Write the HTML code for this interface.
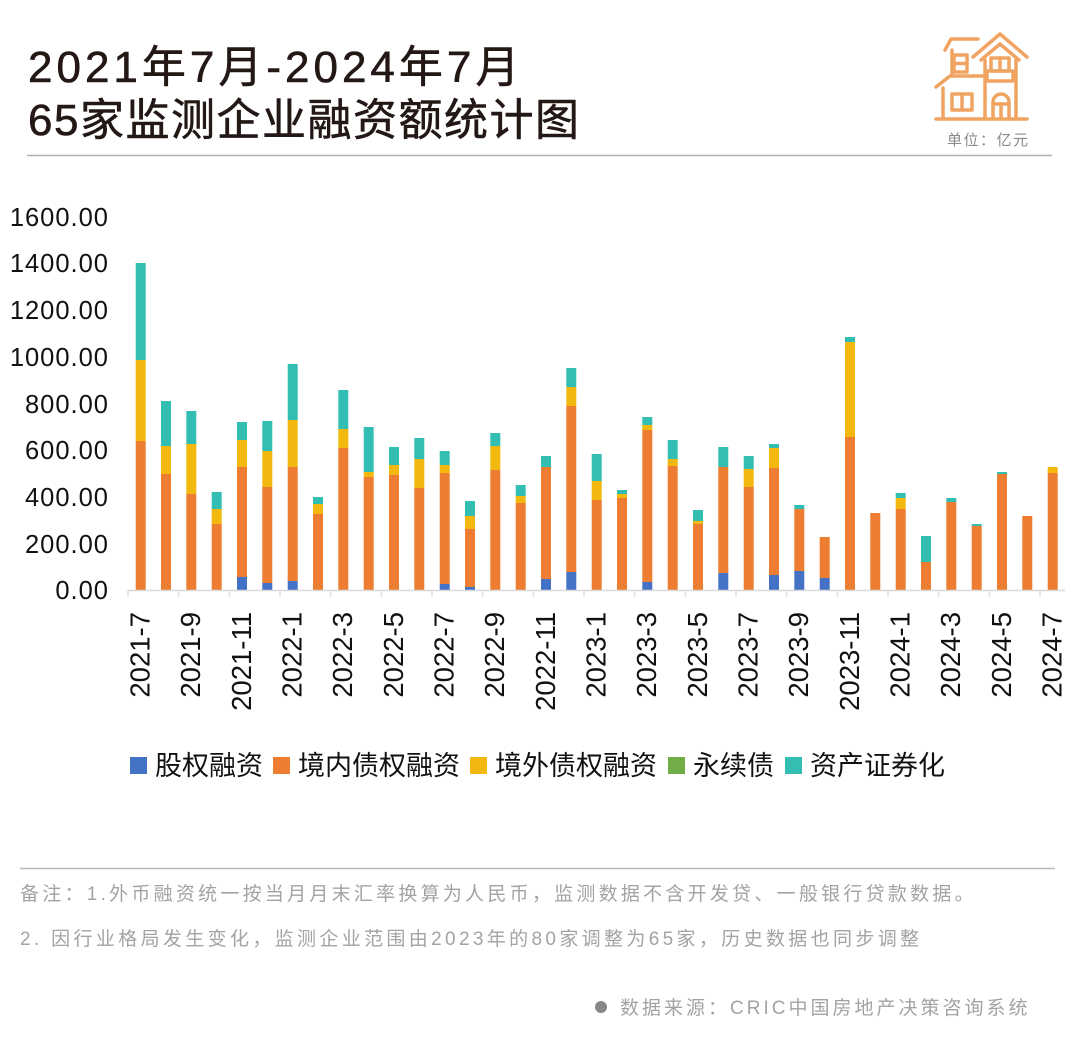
<!DOCTYPE html>
<html>
<head>
<meta charset="utf-8">
<style>
html,body{margin:0;padding:0;background:#fff;}
body{width:1080px;height:1040px;overflow:hidden;}
svg{display:block;}
</style>
</head>
<body>
<svg width="1080" height="1040" viewBox="0 0 1080 1040" xmlns="http://www.w3.org/2000/svg" font-family="'Liberation Sans','Noto Sans CJK SC',sans-serif">
<rect width="1080" height="1040" fill="#fff"/>

<!-- Title -->
<text x="28" y="82" font-size="44" fill="#231815" letter-spacing="4" stroke="#231815" stroke-width="0.6">2021年7月-2024年7月</text>
<text x="28" y="135" font-size="44" fill="#231815" letter-spacing="1.5" stroke="#231815" stroke-width="0.6">65家监测企业融资额统计图</text>
<line x1="27" y1="155.5" x2="1052" y2="155.5" stroke="#b0b0b0" stroke-width="1.5"/>

<!-- House logo -->
<g fill="none" stroke="#F0A462" stroke-width="3.5" stroke-linecap="round" stroke-linejoin="round">
  <line x1="936" y1="119" x2="1027" y2="119"/>
  <path d="M973,57 L1000,34 L1027,57"/>
  <path d="M981,60 L1000,44 L1019,60"/>
  <line x1="985" y1="60" x2="985" y2="119"/>
  <line x1="1016" y1="60" x2="1016" y2="119"/>
  <rect x="991" y="58" width="18" height="13"/>
  <line x1="1000" y1="58" x2="1000" y2="71"/>
  <rect x="987" y="71" width="26" height="10"/>
  <path d="M993,119 V102 A8,8 0 0 1 1009,102 V119"/>
  <line x1="993" y1="104" x2="1009" y2="104"/>
  <line x1="1001" y1="104" x2="1001" y2="119"/>
  <path d="M945,50 L951,39 L978,39"/>
  <line x1="952" y1="50" x2="952" y2="76"/>
  <rect x="954" y="55" width="13" height="17"/>
  <line x1="954" y1="63.5" x2="967" y2="63.5"/>
  <path d="M936,87 L950,76 L983,76"/>
  <line x1="943" y1="88" x2="943" y2="119"/>
  <rect x="952" y="94" width="20" height="16"/>
  <line x1="962" y1="94" x2="962" y2="110"/>
</g>
<text x="947" y="145" font-size="15" fill="#8a8a8a" letter-spacing="1.5">单位：亿元</text>

<!-- Y axis labels -->
<g font-size="25.5" fill="#111" text-anchor="end" letter-spacing="1">
  <text x="109" y="226">1600.00</text>
  <text x="109" y="272">1400.00</text>
  <text x="109" y="319">1200.00</text>
  <text x="109" y="366">1000.00</text>
  <text x="109" y="413">800.00</text>
  <text x="109" y="459">600.00</text>
  <text x="109" y="506">400.00</text>
  <text x="109" y="553">200.00</text>
  <text x="109" y="599">0.00</text>
</g>

<!-- Bars -->
<g>
<rect x="135.7" y="441" width="10" height="149" fill="#ED7D31"/>
<rect x="135.7" y="360" width="10" height="81" fill="#F2B80F"/>
<rect x="135.7" y="263" width="10" height="97" fill="#33BEB3"/>
<rect x="161" y="474" width="10" height="116" fill="#ED7D31"/>
<rect x="161" y="446" width="10" height="28" fill="#F2B80F"/>
<rect x="161" y="401" width="10" height="45" fill="#33BEB3"/>
<rect x="186.3" y="494" width="10" height="96" fill="#ED7D31"/>
<rect x="186.3" y="444" width="10" height="50" fill="#F2B80F"/>
<rect x="186.3" y="411" width="10" height="33" fill="#33BEB3"/>
<rect x="211.7" y="524" width="10" height="66" fill="#ED7D31"/>
<rect x="211.7" y="509" width="10" height="15" fill="#F2B80F"/>
<rect x="211.7" y="492" width="10" height="17" fill="#33BEB3"/>
<rect x="237" y="577" width="10" height="13" fill="#4472C4"/>
<rect x="237" y="467" width="10" height="110" fill="#ED7D31"/>
<rect x="237" y="440" width="10" height="27" fill="#F2B80F"/>
<rect x="237" y="422" width="10" height="18" fill="#33BEB3"/>
<rect x="262.3" y="583" width="10" height="7" fill="#4472C4"/>
<rect x="262.3" y="487" width="10" height="96" fill="#ED7D31"/>
<rect x="262.3" y="451" width="10" height="36" fill="#F2B80F"/>
<rect x="262.3" y="421" width="10" height="30" fill="#33BEB3"/>
<rect x="287.7" y="581" width="10" height="9" fill="#4472C4"/>
<rect x="287.7" y="467" width="10" height="114" fill="#ED7D31"/>
<rect x="287.7" y="420" width="10" height="47" fill="#F2B80F"/>
<rect x="287.7" y="364" width="10" height="56" fill="#33BEB3"/>
<rect x="313" y="514" width="10" height="76" fill="#ED7D31"/>
<rect x="313" y="504" width="10" height="10" fill="#F2B80F"/>
<rect x="313" y="497" width="10" height="7" fill="#33BEB3"/>
<rect x="338.3" y="448" width="10" height="142" fill="#ED7D31"/>
<rect x="338.3" y="429" width="10" height="19" fill="#F2B80F"/>
<rect x="338.3" y="390" width="10" height="39" fill="#33BEB3"/>
<rect x="363.7" y="477" width="10" height="113" fill="#ED7D31"/>
<rect x="363.7" y="472" width="10" height="5" fill="#F2B80F"/>
<rect x="363.7" y="427" width="10" height="45" fill="#33BEB3"/>
<rect x="389" y="475" width="10" height="115" fill="#ED7D31"/>
<rect x="389" y="465" width="10" height="10" fill="#F2B80F"/>
<rect x="389" y="447" width="10" height="18" fill="#33BEB3"/>
<rect x="414.3" y="488" width="10" height="102" fill="#ED7D31"/>
<rect x="414.3" y="459" width="10" height="29" fill="#F2B80F"/>
<rect x="414.3" y="438" width="10" height="21" fill="#33BEB3"/>
<rect x="439.7" y="584" width="10" height="6" fill="#4472C4"/>
<rect x="439.7" y="473" width="10" height="111" fill="#ED7D31"/>
<rect x="439.7" y="465" width="10" height="8" fill="#F2B80F"/>
<rect x="439.7" y="451" width="10" height="14" fill="#33BEB3"/>
<rect x="465" y="587" width="10" height="3" fill="#4472C4"/>
<rect x="465" y="529" width="10" height="58" fill="#ED7D31"/>
<rect x="465" y="516" width="10" height="13" fill="#F2B80F"/>
<rect x="465" y="501" width="10" height="15" fill="#33BEB3"/>
<rect x="490.3" y="470" width="10" height="120" fill="#ED7D31"/>
<rect x="490.3" y="446" width="10" height="24" fill="#F2B80F"/>
<rect x="490.3" y="433" width="10" height="13" fill="#33BEB3"/>
<rect x="515.7" y="503" width="10" height="87" fill="#ED7D31"/>
<rect x="515.7" y="496" width="10" height="7" fill="#F2B80F"/>
<rect x="515.7" y="485" width="10" height="11" fill="#33BEB3"/>
<rect x="541" y="579" width="10" height="11" fill="#4472C4"/>
<rect x="541" y="467" width="10" height="112" fill="#ED7D31"/>
<rect x="541" y="456" width="10" height="11" fill="#33BEB3"/>
<rect x="566.3" y="572" width="10" height="18" fill="#4472C4"/>
<rect x="566.3" y="406" width="10" height="166" fill="#ED7D31"/>
<rect x="566.3" y="387" width="10" height="19" fill="#F2B80F"/>
<rect x="566.3" y="368" width="10" height="19" fill="#33BEB3"/>
<rect x="591.7" y="500" width="10" height="90" fill="#ED7D31"/>
<rect x="591.7" y="481" width="10" height="19" fill="#F2B80F"/>
<rect x="591.7" y="454" width="10" height="27" fill="#33BEB3"/>
<rect x="617" y="498" width="10" height="92" fill="#ED7D31"/>
<rect x="617" y="494" width="10" height="4" fill="#F2B80F"/>
<rect x="617" y="490" width="10" height="4" fill="#33BEB3"/>
<rect x="642.3" y="582" width="10" height="8" fill="#4472C4"/>
<rect x="642.3" y="430" width="10" height="152" fill="#ED7D31"/>
<rect x="642.3" y="425" width="10" height="5" fill="#F2B80F"/>
<rect x="642.3" y="417" width="10" height="8" fill="#33BEB3"/>
<rect x="667.7" y="466" width="10" height="124" fill="#ED7D31"/>
<rect x="667.7" y="459" width="10" height="7" fill="#F2B80F"/>
<rect x="667.7" y="440" width="10" height="19" fill="#33BEB3"/>
<rect x="693" y="524" width="10" height="66" fill="#ED7D31"/>
<rect x="693" y="521" width="10" height="3" fill="#F2B80F"/>
<rect x="693" y="510" width="10" height="11" fill="#33BEB3"/>
<rect x="718.3" y="573" width="10" height="17" fill="#4472C4"/>
<rect x="718.3" y="467" width="10" height="106" fill="#ED7D31"/>
<rect x="718.3" y="447" width="10" height="20" fill="#33BEB3"/>
<rect x="743.7" y="487" width="10" height="103" fill="#ED7D31"/>
<rect x="743.7" y="469" width="10" height="18" fill="#F2B80F"/>
<rect x="743.7" y="456" width="10" height="13" fill="#33BEB3"/>
<rect x="769" y="575" width="10" height="15" fill="#4472C4"/>
<rect x="769" y="468" width="10" height="107" fill="#ED7D31"/>
<rect x="769" y="448" width="10" height="20" fill="#F2B80F"/>
<rect x="769" y="444" width="10" height="4" fill="#33BEB3"/>
<rect x="794.3" y="571" width="10" height="19" fill="#4472C4"/>
<rect x="794.3" y="509" width="10" height="62" fill="#ED7D31"/>
<rect x="794.3" y="505" width="10" height="4" fill="#33BEB3"/>
<rect x="819.7" y="578" width="10" height="12" fill="#4472C4"/>
<rect x="819.7" y="537" width="10" height="41" fill="#ED7D31"/>
<rect x="845" y="437" width="10" height="153" fill="#ED7D31"/>
<rect x="845" y="342" width="10" height="95" fill="#F2B80F"/>
<rect x="845" y="337" width="10" height="5" fill="#33BEB3"/>
<rect x="870.3" y="513" width="10" height="77" fill="#ED7D31"/>
<rect x="895.7" y="509" width="10" height="81" fill="#ED7D31"/>
<rect x="895.7" y="498" width="10" height="11" fill="#F2B80F"/>
<rect x="895.7" y="493" width="10" height="5" fill="#33BEB3"/>
<rect x="921" y="562" width="10" height="28" fill="#ED7D31"/>
<rect x="921" y="536" width="10" height="26" fill="#33BEB3"/>
<rect x="946.3" y="502" width="10" height="88" fill="#ED7D31"/>
<rect x="946.3" y="498" width="10" height="4" fill="#33BEB3"/>
<rect x="971.7" y="526" width="10" height="64" fill="#ED7D31"/>
<rect x="971.7" y="524" width="10" height="2" fill="#33BEB3"/>
<rect x="997" y="474" width="10" height="116" fill="#ED7D31"/>
<rect x="997" y="472" width="10" height="2" fill="#33BEB3"/>
<rect x="1022.3" y="516" width="10" height="74" fill="#ED7D31"/>
<rect x="1047.7" y="473" width="10" height="117" fill="#ED7D31"/>
<rect x="1047.7" y="467" width="10" height="6" fill="#F2B80F"/>
</g>

<!-- X axis -->
<line x1="128" y1="590.5" x2="1065" y2="590.5" stroke="#d9d9d9" stroke-width="1.5"/>
<g stroke="#d9d9d9" stroke-width="1.2">
  <line x1="128" y1="590" x2="128" y2="597"/>
  <line x1="178.7" y1="590" x2="178.7" y2="597"/>
  <line x1="229.3" y1="590" x2="229.3" y2="597"/>
  <line x1="280" y1="590" x2="280" y2="597"/>
  <line x1="330.7" y1="590" x2="330.7" y2="597"/>
  <line x1="381.3" y1="590" x2="381.3" y2="597"/>
  <line x1="432" y1="590" x2="432" y2="597"/>
  <line x1="482.7" y1="590" x2="482.7" y2="597"/>
  <line x1="533.3" y1="590" x2="533.3" y2="597"/>
  <line x1="584" y1="590" x2="584" y2="597"/>
  <line x1="634.7" y1="590" x2="634.7" y2="597"/>
  <line x1="685.3" y1="590" x2="685.3" y2="597"/>
  <line x1="736" y1="590" x2="736" y2="597"/>
  <line x1="786.7" y1="590" x2="786.7" y2="597"/>
  <line x1="837.3" y1="590" x2="837.3" y2="597"/>
  <line x1="888" y1="590" x2="888" y2="597"/>
  <line x1="938.7" y1="590" x2="938.7" y2="597"/>
  <line x1="989.3" y1="590" x2="989.3" y2="597"/>
  <line x1="1040" y1="590" x2="1040" y2="597"/>
</g>

<!-- X labels -->
<g font-size="27.5" fill="#111" text-anchor="end">
  <text transform="translate(149.5,612) rotate(-90)">2021-7</text>
  <text transform="translate(200.2,612) rotate(-90)">2021-9</text>
  <text transform="translate(250.8,612) rotate(-90)">2021-11</text>
  <text transform="translate(301.5,612) rotate(-90)">2022-1</text>
  <text transform="translate(352.2,612) rotate(-90)">2022-3</text>
  <text transform="translate(402.8,612) rotate(-90)">2022-5</text>
  <text transform="translate(453.5,612) rotate(-90)">2022-7</text>
  <text transform="translate(504.2,612) rotate(-90)">2022-9</text>
  <text transform="translate(554.8,612) rotate(-90)">2022-11</text>
  <text transform="translate(605.5,612) rotate(-90)">2023-1</text>
  <text transform="translate(656.2,612) rotate(-90)">2023-3</text>
  <text transform="translate(706.8,612) rotate(-90)">2023-5</text>
  <text transform="translate(757.5,612) rotate(-90)">2023-7</text>
  <text transform="translate(808.2,612) rotate(-90)">2023-9</text>
  <text transform="translate(858.8,612) rotate(-90)">2023-11</text>
  <text transform="translate(909.5,612) rotate(-90)">2024-1</text>
  <text transform="translate(960.2,612) rotate(-90)">2024-3</text>
  <text transform="translate(1010.8,612) rotate(-90)">2024-5</text>
  <text transform="translate(1061.5,612) rotate(-90)">2024-7</text>
</g>

<!-- Legend -->
<g font-size="27" fill="#111">
  <rect x="130" y="757" width="17" height="17" fill="#4472C4"/>
  <text x="155" y="775">股权融资</text>
  <rect x="273" y="757" width="17" height="17" fill="#ED7D31"/>
  <text x="298" y="775">境内债权融资</text>
  <rect x="470" y="757" width="17" height="17" fill="#F2B80F"/>
  <text x="495" y="775">境外债权融资</text>
  <rect x="668" y="757" width="17" height="17" fill="#70AD47"/>
  <text x="693" y="775">永续债</text>
  <rect x="785" y="757" width="17" height="17" fill="#33BEB3"/>
  <text x="810" y="775">资产证券化</text>
</g>

<!-- Footer -->
<line x1="20" y1="868.5" x2="1055" y2="868.5" stroke="#b8b8b8" stroke-width="1.5"/>
<g font-size="19" fill="#a3a3a3">
  <text x="20" y="900" letter-spacing="3.25">备注：1.外币融资统一按当月月末汇率换算为人民币，监测数据不含开发贷、一般银行贷款数据。</text>
  <text x="20" y="945" letter-spacing="3.35">2. 因行业格局发生变化，监测企业范围由2023年的80家调整为65家，历史数据也同步调整</text>
  <text x="620" y="1014" letter-spacing="3">数据来源：CRIC中国房地产决策咨询系统</text>
</g>
<circle cx="601" cy="1007" r="6" fill="#888"/>
</svg>
</body>
</html>
